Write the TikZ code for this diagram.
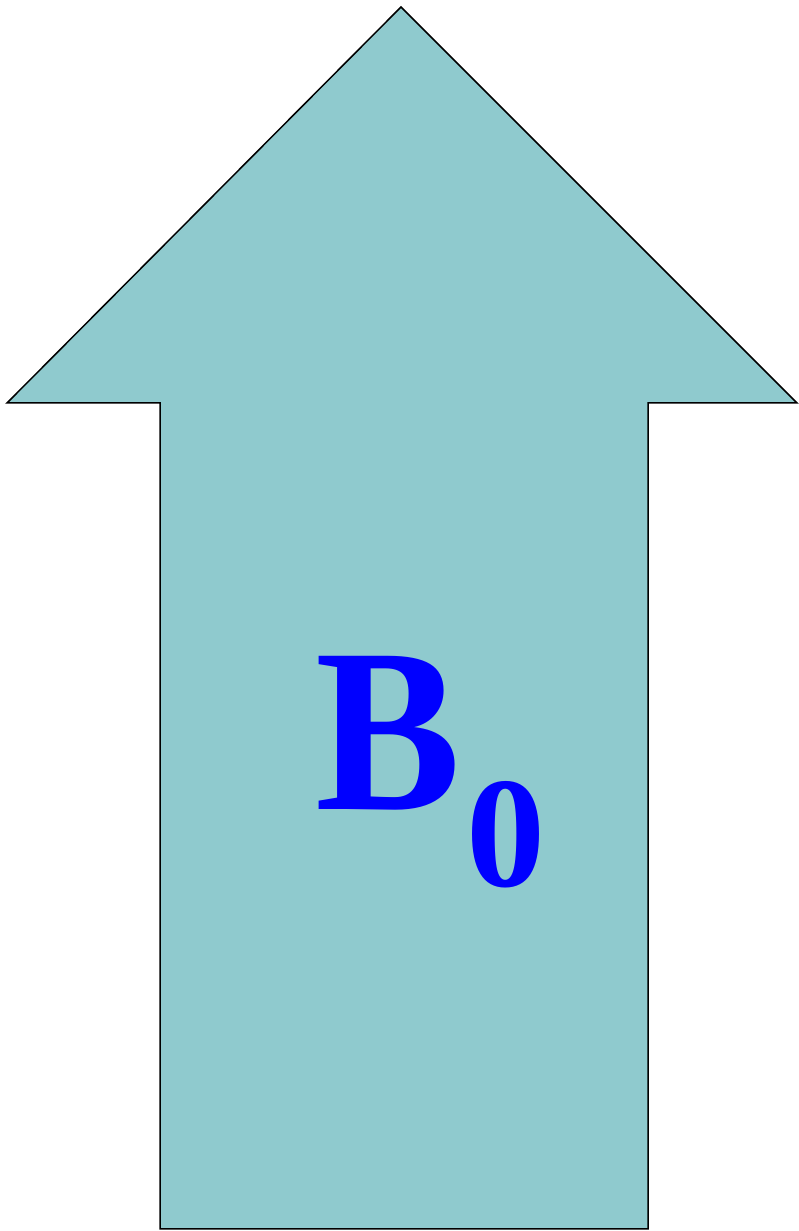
\documentclass[tikz,border=0pt]{standalone}
\usepackage{fontspec}
\setmainfont{Liberation Serif}
\definecolor{arrowfill}{RGB}{143,202,206}
\definecolor{labelblue}{RGB}{0,0,255}
\begin{document}
\begin{tikzpicture}[x=1pt,y=1pt,
  arrowshape/.style={fill=arrowfill,draw=black,line width=1.5pt,line join=miter},
  bigtext/.style={inner sep=0pt,outer sep=0pt,text=labelblue,font=\bfseries\fontsize{234}{240}\selectfont},
  subtext/.style={inner sep=0pt,outer sep=0pt,text=labelblue,font=\bfseries\fontsize{158}{160}\selectfont}]
\useasboundingbox (0,0) rectangle (798,1231);
\draw[arrowshape] (401,1224) -- (797,828) -- (648,828) -- (648,2) -- (160,2) -- (160,828) -- (7,828) -- cycle;
\node[bigtext,anchor=base west] (B) at (315,421) {\scalebox{0.933}[1]{B}};
\node[subtext,anchor=base west] (zero) at (466,344) {0};
\end{tikzpicture}
\end{document}
